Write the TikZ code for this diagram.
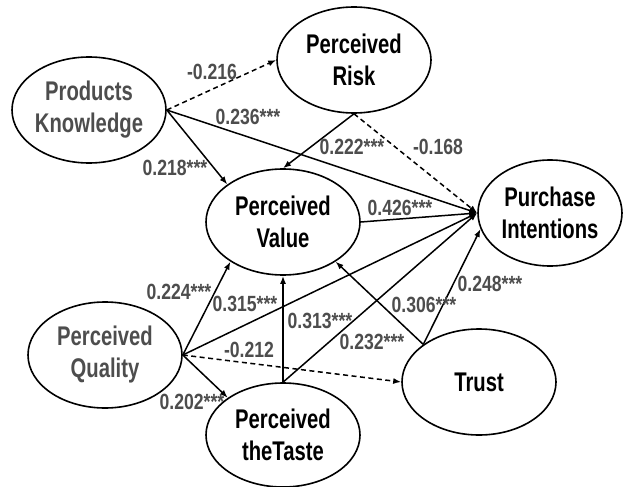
\documentclass[tikz,border=0pt]{standalone}
\usepackage{fontspec}
\newfontfamily\diagfont[FakeStretch=0.75]{Liberation Sans}
\newfontfamily\coeffont[FakeStretch=0.8]{Liberation Sans}
\usetikzlibrary{shapes.geometric,arrows.meta}
\definecolor{labelgray}{HTML}{4D4D4D}
\begin{document}
\begin{tikzpicture}[x=1pt,y=-1pt,
    construct/.style={ellipse,draw,line width=1.6pt,minimum width=154pt,
      minimum height=106pt,inner sep=0pt,align=center,
      font=\diagfont\bfseries\fontsize{27}{32}\selectfont},
    coef/.style={text=labelgray,inner sep=0pt,
      font=\coeffont\bfseries\fontsize{22}{24}\selectfont},
    path/.style={line width=1.5pt,-{Latex[length=8pt,width=6pt]}},
    nspath/.style={path,dash pattern=on 5pt off 3.5pt}]
      \useasboundingbox (0,0) rectangle (624,487);
      \draw
        (89,110) node[construct,text=labelgray] (PK){Products\\Knowledge}
        (354,60) node[construct] (PR){Perceived\\Risk}
        (283,222) node[construct] (PV){Perceived\\Value}
        (550,213) node[construct,minimum width=144pt] (PI){Purchase\\Intentions}
        (105,355) node[construct,text=labelgray] (PQ){Perceived\\Quality}
        (283,435) node[construct,minimum height=104pt] (PT){Perceived\\theTaste}
        (479,382) node[construct] (TR){Trust};
      \begin{scope}[-]
        \draw[nspath] (PK.east) to (PR.west);
        \draw[path] (PK.east) to (PI.west);
        \draw[path] (PK.east) to (PV.146);
        \draw[path] (PR.south) to (PV.north);
        \draw[nspath] (PR.south) to (PI.west);
        \draw[path] (PV.east) to (PI.west);
        \draw[path] (PQ.east) to (PV.217);
        \draw[path] (PQ.east) to (PI.west);
        \draw[nspath] (PQ.east) to (TR.west);
        \draw[path] (PQ.east) to (PT.146);
        \draw[path] (PT.north) to (PV.south);
        \draw[path] (PT.north) to (PI.west);
        \draw[path] (TR.146) to (PV.-37);
        \draw[path] (TR.146) to (PI.193);
      \end{scope}
      \draw
        (212,72) node[coef] (kr){-0.216}
        (248,117) node[coef] (ki){0.236***}
        (175,168) node[coef] (kv){0.218***}
        (352,147) node[coef] (rv){0.222***}
        (438,147) node[coef] (ri){-0.168}
        (400,208) node[coef] (vi){0.426***}
        (179,292) node[coef] (qv){0.224***}
        (245,304) node[coef] (qi){0.315***}
        (249,350) node[coef] (qr){-0.212}
        (192,402) node[coef] (qt){0.202***}
        (320,321) node[coef] (tv){0.313***}
        (372,342) node[coef] (ti){0.232***}
        (424,305) node[coef] (rtv){0.306***}
        (490,284) node[coef] (rti){0.248***};
    \end{tikzpicture}
\end{document}
